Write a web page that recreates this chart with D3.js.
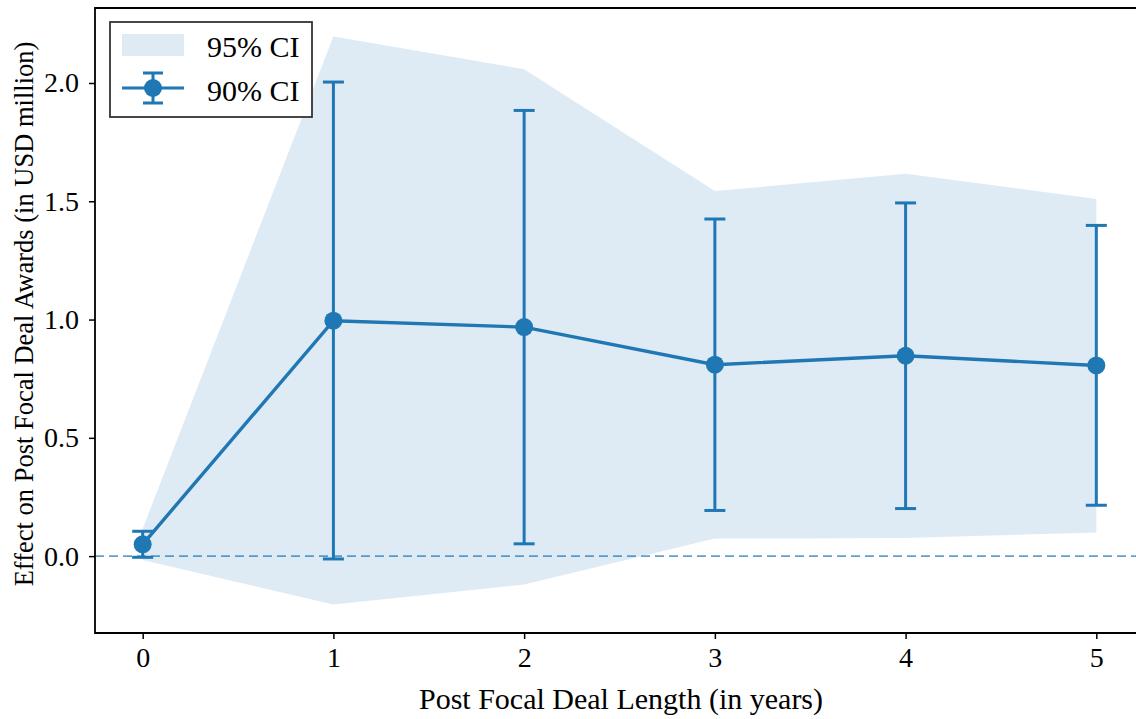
<!DOCTYPE html>
<html>
<head>
<meta charset="utf-8">
<script src="https://cdn.jsdelivr.net/npm/d3@7"></script>
<style>
  html, body { margin: 0; padding: 0; background: #fff; }
  svg { display: block; }
  text { font-family: "Liberation Serif", "DejaVu Serif", serif; fill: #000; }
</style>
</head>
<body>
<svg id="chart" width="1136" height="719"></svg>
<script>
// Event-study estimates by post-deal year
const years      = [0, 1, 2, 3, 4, 5];
const estimate   = [0.050, 0.995, 0.968, 0.809, 0.847, 0.806];
const ci90Lower  = [-0.005, -0.012, 0.052, 0.193, 0.201, 0.215];
const ci90Upper  = [0.105, 2.004, 1.884, 1.425, 1.493, 1.398];
const ci95Lower  = [-0.016, -0.205, -0.120, 0.074, 0.077, 0.100];
const ci95Upper  = [0.116, 2.197, 2.058, 1.543, 1.616, 1.510];
const xTicks     = [0, 1, 2, 3, 4, 5];
const yTicks     = [0.0, 0.5, 1.0, 1.5, 2.0];
const legendLabels = ["95% CI", "90% CI"];

const blue = "#1f77b4";
const svg = d3.select("#chart");

const plot = { left: 95, top: 8, right: 1144, bottom: 633 };

const x = d3.scaleLinear().domain([-0.25, 5.25]).range([plot.left, plot.right]);
const y = d3.scaleLinear().domain([-0.325, 2.317]).range([plot.bottom, plot.top]);

const rows = years.map((yr, i) => ({
  yr, est: estimate[i],
  lo90: ci90Lower[i], hi90: ci90Upper[i],
  lo95: ci95Lower[i], hi95: ci95Upper[i]
}));

// 95% confidence band
svg.append("path")
  .datum(rows)
  .attr("fill", blue)
  .attr("fill-opacity", 0.15)
  .attr("d", d3.area()
    .x(d => x(d.yr))
    .y0(d => y(d.lo95))
    .y1(d => y(d.hi95)));

// zero reference line
svg.append("line")
  .attr("x1", plot.left).attr("x2", plot.right)
  .attr("y1", y(0)).attr("y2", y(0))
  .attr("stroke", blue).attr("stroke-opacity", 0.7)
  .attr("stroke-width", 1.8)
  .attr("stroke-dasharray", "9,5");

// 90% error bars
const eb = svg.append("g").attr("stroke", blue).attr("stroke-width", 3);
const capHalf = 10.5;
rows.forEach(d => {
  eb.append("line").attr("x1", x(d.yr)).attr("x2", x(d.yr))
    .attr("y1", y(d.lo90)).attr("y2", y(d.hi90));
  [d.lo90, d.hi90].forEach(v => {
    eb.append("line").attr("x1", x(d.yr) - capHalf).attr("x2", x(d.yr) + capHalf)
      .attr("y1", y(v)).attr("y2", y(v));
  });
});

// point estimates
svg.append("path")
  .datum(rows)
  .attr("fill", "none")
  .attr("stroke", blue)
  .attr("stroke-width", 3.4)
  .attr("d", d3.line().x(d => x(d.yr)).y(d => y(d.est)));

svg.append("g").selectAll("circle")
  .data(rows).join("circle")
  .attr("cx", d => x(d.yr))
  .attr("cy", d => y(d.est))
  .attr("r", 9)
  .attr("fill", blue);

// axes
const xAxis = svg.append("g")
  .attr("transform", `translate(0,${plot.bottom})`)
  .call(d3.axisBottom(x).tickValues(xTicks).tickFormat(d3.format("d")).tickSize(6).tickPadding(8));
const yAxis = svg.append("g")
  .attr("transform", `translate(${plot.left},0)`)
  .call(d3.axisLeft(y).tickValues(yTicks).tickFormat(d3.format(".1f")).tickSize(6).tickPadding(10));

[xAxis, yAxis].forEach(g => {
  g.attr("font-size", null).attr("font-family", null);
  g.select(".domain").remove();
  g.selectAll(".tick line").attr("stroke", "#000").attr("stroke-width", 1.5);
  g.selectAll(".tick text")
    .attr("font-size", 28)
    .style("font-size", "28px")
    .attr("fill", "#000");
});

// frame (top, left, bottom)
svg.append("path")
  .attr("d", `M${plot.right},${plot.top}H${plot.left}V${plot.bottom}H${plot.right}`)
  .attr("fill", "none").attr("stroke", "#000").attr("stroke-width", 1.8);

// axis titles
svg.append("text")
  .attr("x", 621)
  .attr("y", 709)
  .attr("text-anchor", "middle")
  .style("font-size", "30px")
  .text("Post Focal Deal Length (in years)");

svg.append("text")
  .attr("transform", "translate(33,314) rotate(-90)")
  .attr("text-anchor", "middle")
  .style("font-size", "26.5px")
  .text("Effect on Post Focal Deal Awards (in USD million)");

// legend
const lg = svg.append("g").attr("transform", "translate(110,22)");
lg.append("rect")
  .attr("width", 202).attr("height", 95)
  .attr("fill", "#fff").attr("stroke", "#333").attr("stroke-width", 1.8);
lg.append("rect")
  .attr("x", 12).attr("y", 12).attr("width", 62).attr("height", 22)
  .attr("fill", blue).attr("fill-opacity", 0.15);
const sym = lg.append("g").attr("stroke", blue).attr("stroke-width", 3);
sym.append("line").attr("x1", 12).attr("x2", 74).attr("y1", 66).attr("y2", 66);
sym.append("line").attr("x1", 43).attr("x2", 43).attr("y1", 51).attr("y2", 81);
sym.append("line").attr("x1", 33).attr("x2", 53).attr("y1", 51).attr("y2", 51);
sym.append("line").attr("x1", 33).attr("x2", 53).attr("y1", 81).attr("y2", 81);
lg.append("circle").attr("cx", 43).attr("cy", 66).attr("r", 9).attr("fill", blue);
legendLabels.forEach((t, i) => {
  lg.append("text")
    .attr("x", 97).attr("y", 35 + i * 44)
    .style("font-size", "30px")
    .text(t);
});
</script>
</body>
</html>
